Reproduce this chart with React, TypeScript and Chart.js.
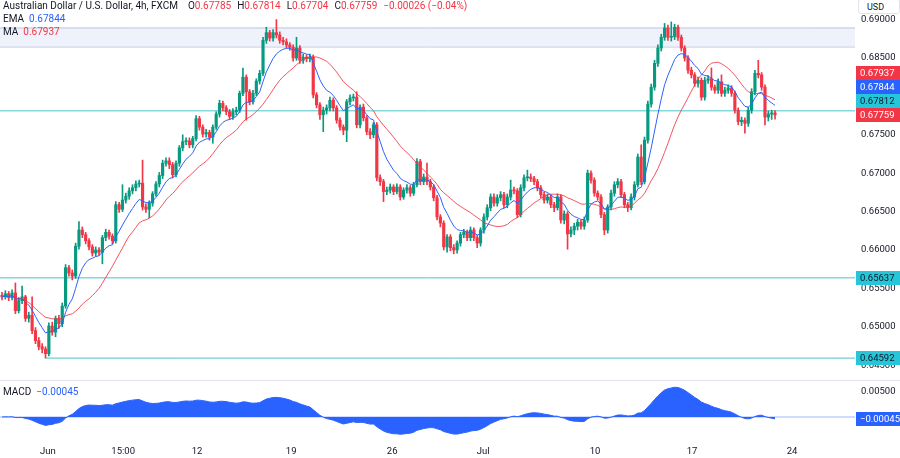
import React, { useEffect, useRef } from "react";
import { Chart, registerables } from "chart.js";

Chart.register(...registerables);

// ---------------- DATA ----------------
const opens = [
  0.6541, 0.6539, 0.6543, 0.6538, 0.6544, 0.6521, 0.6534, 0.6539, 0.6511, 0.6515,
  0.6495, 0.6482, 0.6474, 0.6471, 0.6465, 0.6501, 0.6493, 0.6511, 0.6504, 0.6527,
  0.6577, 0.657, 0.6566, 0.6605, 0.6626, 0.662, 0.6612, 0.6604, 0.6596, 0.66,
  0.6597, 0.6616, 0.6623, 0.6618, 0.6612, 0.6659, 0.6653, 0.6665, 0.667, 0.6677,
  0.6681, 0.6686, 0.6687, 0.6656, 0.6653, 0.6661, 0.6673, 0.6686, 0.6697, 0.6713,
  0.6716, 0.6711, 0.6698, 0.6713, 0.6733, 0.6741, 0.6742, 0.6737, 0.6745, 0.6771,
  0.676, 0.6751, 0.6753, 0.6747, 0.676, 0.6777, 0.6791, 0.6785, 0.678, 0.6774,
  0.678, 0.6782, 0.6804, 0.6825, 0.6806, 0.6793, 0.6804, 0.682, 0.683, 0.6873,
  0.6883, 0.6876, 0.6883, 0.688, 0.6873, 0.6871, 0.6867, 0.6864, 0.685, 0.6863,
  0.6847, 0.6851, 0.6849, 0.6851, 0.6802, 0.6789, 0.6776, 0.6782, 0.6785, 0.6795,
  0.6785, 0.6769, 0.676, 0.6756, 0.6793, 0.6798, 0.6799, 0.6763, 0.6786, 0.6772,
  0.6754, 0.675, 0.6763, 0.6694, 0.6689, 0.6676, 0.6678, 0.6682, 0.6676, 0.6682,
  0.6669, 0.6678, 0.6681, 0.6674, 0.6685, 0.6715, 0.6689, 0.6695, 0.6689, 0.6682,
  0.6668, 0.6643, 0.6635, 0.6604, 0.6617, 0.6603, 0.66, 0.6609, 0.662, 0.6623,
  0.6616, 0.6626, 0.6616, 0.6609, 0.6626, 0.6643, 0.6655, 0.6669, 0.6661, 0.6668,
  0.6672, 0.6659, 0.6669, 0.6678, 0.6677, 0.6646, 0.6681, 0.6694, 0.6695, 0.6693,
  0.6689, 0.6681, 0.6672, 0.6665, 0.6669, 0.6659, 0.6655, 0.6669, 0.6639, 0.6647,
  0.6621, 0.6626, 0.6631, 0.6636, 0.6631, 0.6639, 0.67, 0.6691, 0.6674, 0.6669,
  0.6646, 0.6626, 0.6656, 0.6674, 0.6685, 0.6689, 0.6672, 0.6659, 0.6655, 0.6669,
  0.6685, 0.6721, 0.6689, 0.6743, 0.679, 0.6812, 0.6843, 0.6863, 0.6877, 0.6889,
  0.6877, 0.6878, 0.689, 0.6877, 0.6863, 0.685, 0.6834, 0.6828, 0.6817, 0.6821,
  0.6799, 0.6821, 0.6823, 0.6812, 0.6808, 0.6819, 0.6804, 0.6808, 0.6811, 0.6804,
  0.6782, 0.6767, 0.6769, 0.6765, 0.6782, 0.6806, 0.683, 0.6828, 0.6812, 0.6773,
  0.6777, 0.67785,
];

const highs = [
  0.6545, 0.6547, 0.6546, 0.6548, 0.6557, 0.6538, 0.6553, 0.6541, 0.6519, 0.6539,
  0.6499, 0.6486, 0.6478, 0.6474, 0.6505, 0.6506, 0.6514, 0.6515, 0.6531, 0.6581,
  0.658, 0.6574, 0.6609, 0.6637, 0.663, 0.6623, 0.6615, 0.6607, 0.6604, 0.6603,
  0.6619, 0.6627, 0.6626, 0.6621, 0.6663, 0.6662, 0.6685, 0.6674, 0.6681, 0.6685,
  0.669, 0.6691, 0.6717, 0.666, 0.6664, 0.6676, 0.6689, 0.6701, 0.6717, 0.672,
  0.672, 0.6714, 0.6716, 0.6736, 0.675, 0.6746, 0.6746, 0.6748, 0.6775, 0.6774,
  0.6763, 0.6757, 0.6756, 0.6763, 0.678, 0.6795, 0.6794, 0.6788, 0.6783, 0.6784,
  0.6786, 0.6807, 0.6837, 0.6828, 0.6809, 0.6808, 0.6823, 0.6834, 0.6877, 0.689,
  0.6886, 0.6887, 0.69, 0.6884, 0.6877, 0.6875, 0.687, 0.6867, 0.6877, 0.6866,
  0.6855, 0.6854, 0.6855, 0.6854, 0.6805, 0.6792, 0.6786, 0.6789, 0.6799, 0.6798,
  0.6788, 0.6772, 0.6763, 0.6796, 0.6802, 0.6803, 0.6806, 0.6789, 0.679, 0.6775,
  0.6758, 0.6766, 0.6766, 0.6698, 0.6692, 0.6682, 0.6686, 0.6685, 0.6686, 0.6685,
  0.6681, 0.6685, 0.6684, 0.6688, 0.6719, 0.6718, 0.6699, 0.6713, 0.6692, 0.6685,
  0.6671, 0.6646, 0.6638, 0.662, 0.662, 0.6607, 0.6612, 0.6623, 0.6627, 0.6626,
  0.663, 0.6629, 0.6619, 0.6629, 0.6647, 0.6659, 0.6673, 0.6673, 0.6672, 0.6676,
  0.6675, 0.6673, 0.6691, 0.6682, 0.668, 0.6685, 0.6698, 0.6704, 0.6699, 0.6696,
  0.6692, 0.6684, 0.6675, 0.6673, 0.6672, 0.6662, 0.6673, 0.6672, 0.6651, 0.665,
  0.663, 0.6635, 0.664, 0.6639, 0.6643, 0.6704, 0.6703, 0.6694, 0.6677, 0.6672,
  0.6649, 0.6659, 0.6678, 0.6689, 0.6693, 0.6692, 0.6675, 0.6662, 0.6673, 0.6689,
  0.6725, 0.6737, 0.6747, 0.6794, 0.6816, 0.6847, 0.6867, 0.6881, 0.6895, 0.6893,
  0.6897, 0.6894, 0.6893, 0.688, 0.6866, 0.6853, 0.6838, 0.6831, 0.6825, 0.6824,
  0.6825, 0.6827, 0.6837, 0.6815, 0.6823, 0.6828, 0.6812, 0.6815, 0.6814, 0.6807,
  0.6785, 0.6773, 0.6772, 0.6786, 0.681, 0.6834, 0.6847, 0.6831, 0.6815, 0.6781,
  0.6782, 0.67814,
];

const lows = [
  0.6535, 0.6536, 0.6534, 0.6535, 0.6517, 0.6518, 0.653, 0.6507, 0.6506, 0.6491,
  0.6478, 0.647, 0.6466, 0.64592, 0.6462, 0.6489, 0.6487, 0.6498, 0.65, 0.6524,
  0.6566, 0.6561, 0.6563, 0.6601, 0.6616, 0.6608, 0.66, 0.6592, 0.6592, 0.6593,
  0.6582, 0.6612, 0.6614, 0.6608, 0.6609, 0.6649, 0.665, 0.6661, 0.6666, 0.6673,
  0.6677, 0.6682, 0.6652, 0.6649, 0.6642, 0.6657, 0.667, 0.6682, 0.6693, 0.6709,
  0.6706, 0.6694, 0.6695, 0.6709, 0.6729, 0.6737, 0.6733, 0.6733, 0.6742, 0.6756,
  0.6747, 0.6747, 0.6743, 0.6739, 0.6757, 0.6773, 0.6781, 0.6776, 0.677, 0.677,
  0.6776, 0.6779, 0.6801, 0.6769, 0.6789, 0.679, 0.6801, 0.6816, 0.6827, 0.6869,
  0.6872, 0.6872, 0.6876, 0.6869, 0.6867, 0.6863, 0.686, 0.6846, 0.6847, 0.6843,
  0.6843, 0.6845, 0.6845, 0.6798, 0.6785, 0.677, 0.6754, 0.6777, 0.6781, 0.6781,
  0.6765, 0.6756, 0.675, 0.6741, 0.6789, 0.6794, 0.6759, 0.6759, 0.6768, 0.675,
  0.6745, 0.6746, 0.669, 0.6684, 0.6663, 0.6672, 0.6674, 0.6672, 0.6673, 0.6665,
  0.6666, 0.6674, 0.667, 0.6671, 0.6682, 0.6685, 0.6685, 0.6685, 0.6678, 0.6664,
  0.6639, 0.663, 0.66, 0.6597, 0.6599, 0.6595, 0.6596, 0.6605, 0.6616, 0.6612,
  0.6612, 0.6612, 0.6603, 0.6605, 0.6622, 0.6639, 0.6651, 0.6657, 0.6657, 0.6664,
  0.6655, 0.6655, 0.6665, 0.6673, 0.6642, 0.6643, 0.6677, 0.669, 0.6689, 0.6685,
  0.6677, 0.6668, 0.6661, 0.6661, 0.6655, 0.665, 0.6652, 0.6635, 0.6634, 0.6601,
  0.6617, 0.662, 0.6626, 0.6627, 0.6627, 0.6636, 0.6687, 0.667, 0.6665, 0.6642,
  0.662, 0.6622, 0.6652, 0.667, 0.6681, 0.6668, 0.6655, 0.665, 0.6652, 0.6665,
  0.6682, 0.6685, 0.6686, 0.6739, 0.6786, 0.6808, 0.6839, 0.6859, 0.6873, 0.6873,
  0.6872, 0.6874, 0.6873, 0.6859, 0.6846, 0.683, 0.6824, 0.6813, 0.6812, 0.6795,
  0.6795, 0.6817, 0.6808, 0.6804, 0.6804, 0.68, 0.68, 0.6804, 0.68, 0.6778,
  0.6763, 0.6762, 0.6752, 0.6761, 0.6778, 0.6802, 0.6824, 0.6808, 0.6763, 0.6768,
  0.677, 0.67704,
];

const closes = [
  0.6539, 0.6543, 0.6538, 0.6544, 0.6521, 0.6534, 0.6539, 0.6511, 0.6515, 0.6495,
  0.6482, 0.6474, 0.6471, 0.6465, 0.6501, 0.6493, 0.6511, 0.6504, 0.6527, 0.6577,
  0.657, 0.6566, 0.6605, 0.6626, 0.662, 0.6612, 0.6604, 0.6596, 0.66, 0.6597,
  0.6616, 0.6623, 0.6618, 0.6612, 0.6659, 0.6653, 0.6665, 0.667, 0.6677, 0.6681,
  0.6686, 0.6687, 0.6656, 0.6653, 0.6661, 0.6673, 0.6686, 0.6697, 0.6713, 0.6716,
  0.6711, 0.6698, 0.6713, 0.6733, 0.6741, 0.6742, 0.6737, 0.6745, 0.6771, 0.676,
  0.6751, 0.6753, 0.6747, 0.676, 0.6777, 0.6791, 0.6785, 0.678, 0.6774, 0.678,
  0.6782, 0.6804, 0.6825, 0.6806, 0.6793, 0.6804, 0.682, 0.683, 0.6873, 0.6883,
  0.6876, 0.6883, 0.688, 0.6873, 0.6871, 0.6867, 0.6864, 0.685, 0.6863, 0.6847,
  0.6851, 0.6849, 0.6851, 0.6802, 0.6789, 0.6776, 0.6782, 0.6785, 0.6795, 0.6785,
  0.6769, 0.676, 0.6756, 0.6793, 0.6798, 0.6799, 0.6763, 0.6786, 0.6772, 0.6754,
  0.675, 0.6763, 0.6694, 0.6689, 0.6676, 0.6678, 0.6682, 0.6676, 0.6682, 0.6669,
  0.6678, 0.6681, 0.6674, 0.6685, 0.6715, 0.6689, 0.6695, 0.6689, 0.6682, 0.6668,
  0.6643, 0.6635, 0.6604, 0.6617, 0.6603, 0.66, 0.6609, 0.662, 0.6623, 0.6616,
  0.6626, 0.6616, 0.6609, 0.6626, 0.6643, 0.6655, 0.6669, 0.6661, 0.6668, 0.6672,
  0.6659, 0.6669, 0.6678, 0.6677, 0.6646, 0.6681, 0.6694, 0.6695, 0.6693, 0.6689,
  0.6681, 0.6672, 0.6665, 0.6669, 0.6659, 0.6655, 0.6669, 0.6639, 0.6647, 0.6621,
  0.6626, 0.6631, 0.6636, 0.6631, 0.6639, 0.67, 0.6691, 0.6674, 0.6669, 0.6646,
  0.6626, 0.6656, 0.6674, 0.6685, 0.6689, 0.6672, 0.6659, 0.6655, 0.6669, 0.6685,
  0.6721, 0.6689, 0.6743, 0.679, 0.6812, 0.6843, 0.6863, 0.6877, 0.6889, 0.6877,
  0.6878, 0.689, 0.6877, 0.6863, 0.685, 0.6834, 0.6828, 0.6817, 0.6821, 0.6799,
  0.6821, 0.6823, 0.6812, 0.6808, 0.6819, 0.6804, 0.6808, 0.6811, 0.6804, 0.6782,
  0.6767, 0.6769, 0.6765, 0.6782, 0.6806, 0.683, 0.6828, 0.6812, 0.6773, 0.6777,
  0.67785, 0.67759,
];

const priceTicks = [0.645, 0.65, 0.655, 0.66, 0.665, 0.67, 0.675, 0.68, 0.685, 0.69];
const macdTicks = [0.005];
const dateTickPos = [13.7, 36.2, 58.3, 86.4, 116.6, 143.8, 177.2, 206.2, 236.1];
const dateTickLabels = ["Jun", "15:00", "12", "19", "26", "Jul", "10", "17", "24"];

const levelValues = [0.67812, 0.65637, 0.64592];
const levelStartBar = [-1, -1, 13];
const bandTop = 0.68891;
const bandBottom = 0.68643;

const lastEma = 0.67844;
const lastMa = 0.67937;
const lastMacd = -0.00045;
const emaPeriod = 9;
const maPeriod = 20;
const macdFast = 12;
const macdSlow = 26;

// ---------------- STYLE ----------------
const FONT = "Roboto, 'Noto Sans', sans-serif";
const UP = "#089981";
const DOWN = "#f23645";
const EMA_C = "#2962ff";
const MA_C = "rgba(242,54,69,0.85)";
const LEVEL_C = "#4cc3c9";
const TEAL_BOX = "#26c6da";
const BAND_LINE = "#bcc5de";
const BAND_FILL = "rgba(225,231,248,0.55)";
const TEXT = "#131722";
const X_MIN = -0.6;
const X_MAX = 254.9;
const Y_MIN = 0.64307;
const Y_MAX = 0.69255;
const M_MIN = -0.0046;
const M_MAX = 0.0074;

function ema(vals: number[], p: number) {
  const k = 2 / (p + 1);
  const out: number[] = [];
  let e = vals[0];
  vals.forEach((v, i) => {
    e = i === 0 ? v : v * k + e * (1 - k);
    out.push(e);
  });
  return out;
}
function sma(vals: number[], p: number) {
  return vals.map((_, i) => {
    const s = Math.max(0, i - p + 1);
    let sum = 0;
    for (let j = s; j <= i; j++) sum += vals[j];
    return sum / (i - s + 1);
  });
}

function drawBox(ctx: CanvasRenderingContext2D, x: number, y: number, w: number, bg: string, fg: string, text: string) {
  const h = 14;
  ctx.save();
  ctx.fillStyle = bg;
  ctx.fillRect(x + 1, Math.round(y - h / 2), w - 1, h);
  ctx.fillStyle = fg;
  ctx.font = `9.5px ${FONT}`;
  ctx.textBaseline = "middle";
  ctx.textAlign = "left";
  ctx.fillText(text, x + 5, Math.round(y - h / 2) + h / 2 + 0.5);
  ctx.restore();
}

export default function App() {
  const mainRef = useRef<HTMLCanvasElement>(null);
  const macdRef = useRef<HTMLCanvasElement>(null);

  useEffect(() => {
    const n = closes.length;
    const idx = closes.map((_, i) => i);
    const colors = idx.map((i) => (closes[i] >= opens[i] ? UP : DOWN));
    const emaVals = ema(closes, emaPeriod);
    const maVals = sma(closes, maPeriod);
    const fast = ema(closes, macdFast);
    const slow = ema(closes, macdSlow);
    const macdVals = idx.map((i) => fast[i] - slow[i]);

    const axisBoxes = {
      id: "axisBoxes",
      afterDraw(chart: any) {
        const ys = chart.scales.y;
        const ctx = chart.ctx as CanvasRenderingContext2D;
        const left = ys.left;
        const w = 900 - left;
        const stack = [
          { v: closes[n - 1], bg: DOWN, fg: "#ffffff" },
          { v: levelValues[0], bg: TEAL_BOX, fg: TEXT },
          { v: lastEma, bg: EMA_C, fg: "#ffffff" },
          { v: lastMa, bg: DOWN, fg: "#ffffff" },
        ];
        let prev = Infinity;
        stack.forEach((s) => {
          let py = ys.getPixelForValue(s.v);
          py = Math.min(py, prev - 14);
          prev = py;
          drawBox(ctx, left, py, w, s.bg, s.fg, s.v.toFixed(5));
        });
        [levelValues[1], levelValues[2]].forEach((v) => {
          drawBox(ctx, left, ys.getPixelForValue(v), w, TEAL_BOX, TEXT, v.toFixed(5));
        });
      },
    };

    const candleWicks = {
      type: "bar",
      data: idx.map((i) => ({ x: i, y: [lows[i], highs[i]] })),
      backgroundColor: colors,
      barThickness: 1,
      grouped: false,
      order: 6,
    };
    const candleBodies = {
      type: "bar",
      data: idx.map((i) => ({ x: i, y: [opens[i], closes[i]] })),
      backgroundColor: colors,
      barThickness: 2.5,
      minBarLength: 1,
      grouped: false,
      order: 5,
    };
    const lineBase = { type: "line", pointRadius: 0, borderWidth: 1, tension: 0, fill: false };
    const levelSets = levelValues.map((v, k) => ({
      ...lineBase,
      data: [
        { x: Math.max(X_MIN, levelStartBar[k]), y: v },
        { x: X_MAX, y: v },
      ],
      borderColor: LEVEL_C,
      order: 10,
    }));
    const bandSets = [
      {
        ...lineBase,
        data: [
          { x: X_MIN, y: bandTop },
          { x: X_MAX, y: bandTop },
        ],
        borderColor: BAND_LINE,
        backgroundColor: BAND_FILL,
        fill: "+1",
        order: 11,
      },
      {
        ...lineBase,
        data: [
          { x: X_MIN, y: bandBottom },
          { x: X_MAX, y: bandBottom },
        ],
        borderColor: BAND_LINE,
        order: 11,
      },
    ];
    const emaSet = {
      ...lineBase,
      data: idx.map((i) => ({ x: i, y: emaVals[i] })),
      borderColor: EMA_C,
      order: 1,
    };
    const maSet = {
      ...lineBase,
      data: idx.map((i) => ({ x: i, y: maVals[i] })),
      borderColor: MA_C,
      order: 2,
    };

    const main = new Chart(mainRef.current as HTMLCanvasElement, {
      type: "bar",
      data: { datasets: [...bandSets, ...levelSets, candleWicks, candleBodies, maSet, emaSet] as any },
      options: {
        responsive: false,
        animation: false,
        devicePixelRatio: 1,
        layout: { padding: 0 },
        plugins: { legend: { display: false }, tooltip: { enabled: false } },
        events: [],
        scales: {
          x: {
            type: "linear",
            min: X_MIN,
            max: X_MAX,
            offset: false,
            display: false,
            grid: { display: false, drawTicks: false },
          },
          y: {
            type: "linear",
            position: "right",
            min: Y_MIN,
            max: Y_MAX,
            grid: { display: false, drawTicks: false },
            border: { display: false },
            afterBuildTicks: (s: any) => {
              s.ticks = priceTicks.map((v) => ({ value: v }));
            },
            afterFit: (s: any) => {
              s.width = 45;
              s.paddingTop = 0;
              s.paddingBottom = 0;
            },
            ticks: {
              color: TEXT,
              font: { size: 9.5, family: FONT },
              padding: 6,
              callback: (v: any) => Number(v).toFixed(5),
            },
          },
        },
      } as any,
      plugins: [axisBoxes],
    });

    const macdBox = {
      id: "macdBox",
      beforeDraw(chart: any) {
        const ctx = chart.ctx as CanvasRenderingContext2D;
        ctx.save();
        ctx.strokeStyle = "#e0e3eb";
        ctx.lineWidth = 1;
        ctx.beginPath();
        ctx.moveTo(0, 0.5);
        ctx.lineTo(900, 0.5);
        ctx.stroke();
        ctx.restore();
      },
      afterDraw(chart: any) {
        const ys = chart.scales.y;
        const ctx = chart.ctx as CanvasRenderingContext2D;
        drawBox(ctx, ys.left, ys.getPixelForValue(lastMacd), 900 - ys.left, EMA_C, "#ffffff", "\u2212" + Math.abs(lastMacd).toFixed(5));
      },
    };

    const macd = new Chart(macdRef.current as HTMLCanvasElement, {
      type: "line",
      data: {
        datasets: [
          {
            data: idx.map((i) => ({ x: i, y: macdVals[i] })),
            borderColor: EMA_C,
            backgroundColor: EMA_C,
            borderWidth: 1,
            pointRadius: 0,
            fill: { value: 0 },
            order: 2,
          },
          {
            data: [
              { x: X_MIN, y: 0 },
              { x: X_MAX, y: 0 },
            ],
            borderColor: "rgba(41,98,255,0.45)",
            borderWidth: 1,
            pointRadius: 0,
            fill: false,
            order: 1,
          },
        ] as any,
      },
      options: {
        responsive: false,
        animation: false,
        devicePixelRatio: 1,
        layout: { padding: 0 },
        plugins: { legend: { display: false }, tooltip: { enabled: false } },
        events: [],
        scales: {
          x: {
            type: "linear",
            min: X_MIN,
            max: X_MAX,
            offset: false,
            grid: { display: false, drawTicks: false },
            border: { display: false },
            afterBuildTicks: (s: any) => {
              s.ticks = dateTickPos.map((v) => ({ value: v }));
            },
            afterFit: (s: any) => {
              s.height = 18;
              s.paddingLeft = 0;
              s.paddingRight = 0;
            },
            ticks: {
              autoSkip: false,
              maxRotation: 0,
              color: TEXT,
              font: { size: 9.5, family: FONT },
              padding: 6,
              callback: (_v: any, i: number) => dateTickLabels[i],
            },
          },
          y: {
            type: "linear",
            position: "right",
            min: M_MIN,
            max: M_MAX,
            grid: { display: false, drawTicks: false },
            border: { display: false },
            afterBuildTicks: (s: any) => {
              s.ticks = macdTicks.map((v) => ({ value: v }));
            },
            afterFit: (s: any) => {
              s.width = 45;
              s.paddingTop = 0;
              s.paddingBottom = 0;
            },
            ticks: {
              color: TEXT,
              font: { size: 9.5, family: FONT },
              padding: 6,
              callback: (v: any) => Number(v).toFixed(5),
            },
          },
        },
      } as any,
      plugins: [macdBox],
    });

    return () => {
      main.destroy();
      macd.destroy();
    };
  }, []);

  const red = { color: DOWN };
  const legendStyle: React.CSSProperties = {
    position: "absolute",
    left: 3,
    fontSize: 10,
    lineHeight: "12px",
    color: TEXT,
    whiteSpace: "nowrap",
    fontFamily: FONT,
  };

  return (
    <div
      style={{
        position: "absolute",
        left: 0,
        top: 0,
        width: 900,
        height: 458,
        background: "#ffffff",
        overflow: "hidden",
        fontFamily: FONT,
      }}
    >
      <canvas ref={mainRef} width={900} height={380} style={{ position: "absolute", left: 0, top: 0 }} />
      <canvas ref={macdRef} width={900} height={78} style={{ position: "absolute", left: 0, top: 380 }} />
      <div style={{ ...legendStyle, top: 0 }}>
        <span>Australian Dollar / U.S. Dollar, 4h, FXCM</span>
        <span style={{ marginLeft: 10 }}>O</span>
        <span style={red}>0.67785</span>
        <span style={{ marginLeft: 6 }}>H</span>
        <span style={red}>0.67814</span>
        <span style={{ marginLeft: 6 }}>L</span>
        <span style={red}>0.67704</span>
        <span style={{ marginLeft: 6 }}>C</span>
        <span style={red}>0.67759</span>
        <span style={{ ...red, marginLeft: 6 }}>−0.00026 (−0.04%)</span>
      </div>
      <div style={{ ...legendStyle, top: 13 }}>
        <span>EMA</span>
        <span style={{ color: EMA_C, marginLeft: 5 }}>0.67844</span>
      </div>
      <div style={{ ...legendStyle, top: 26 }}>
        <span>MA</span>
        <span style={{ color: DOWN, marginLeft: 5 }}>0.67937</span>
      </div>
      <div style={{ ...legendStyle, top: 386 }}>
        <span>MACD</span>
        <span style={{ color: EMA_C, marginLeft: 5 }}>−0.00045</span>
      </div>
      <div
        style={{
          position: "absolute",
          left: 858,
          top: -1,
          width: 42,
          height: 15,
          background: "#ffffff",
          border: "1px solid #e0e3eb",
          borderRadius: 3,
          fontSize: 9,
          lineHeight: "15px",
          color: TEXT,
          paddingLeft: 8,
          boxSizing: "border-box",
          fontFamily: FONT,
        }}
      >
        USD
      </div>
    </div>
  );
}
